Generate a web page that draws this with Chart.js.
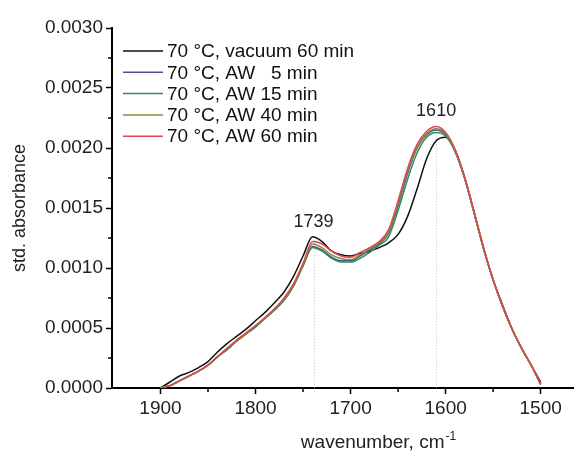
<!DOCTYPE html>
<html>
<head>
<meta charset="utf-8">
<script src="https://cdn.jsdelivr.net/npm/chart.js@4.4.0/dist/chart.umd.min.js"></script>
<style>
html, body { margin: 0; padding: 0; background: #fff; }
</style>
</head>
<body>
<canvas id="myChart" width="574" height="451"></canvas>
<script>
// wavenumber grid, cm-1
let wavenumbers = [1900, 1890, 1880, 1870, 1860, 1850, 1840, 1830, 1820, 1810,
                   1800, 1790, 1780, 1770, 1760, 1750, 1740, 1730, 1720, 1710,
                   1700, 1690, 1680, 1670, 1660, 1650, 1640, 1630, 1620, 1610,
                   1600, 1590, 1580, 1570, 1560, 1550, 1540, 1530, 1520, 1510, 1500];

let vacuum60 = [0.00000, 0.00005, 0.00010, 0.00013, 0.00017, 0.00022, 0.00030, 0.00037, 0.00043, 0.00049,
                0.00056, 0.00063, 0.00071, 0.00080, 0.00093, 0.00110, 0.00126, 0.00122, 0.00114, 0.00111,
                0.00110, 0.00112, 0.00114, 0.00117, 0.00121, 0.00128, 0.00143, 0.00166, 0.00191, 0.00206,
                0.00209, 0.00198, 0.00175, 0.00146, 0.00116, 0.00090, 0.00069, 0.00049, 0.00033, 0.00019, 0.00005];
let aw5 = [0.00000, 0.00002, 0.00006, 0.00010, 0.00014, 0.00019, 0.00026, 0.00032, 0.00039, 0.00045,
           0.00051, 0.00058, 0.00065, 0.00073, 0.00085, 0.00102, 0.00118, 0.00115, 0.00109, 0.00106,
           0.00106, 0.00110, 0.00115, 0.00120, 0.00129, 0.00152, 0.00179, 0.00200, 0.00211, 0.00215,
           0.00211, 0.00197, 0.00175, 0.00146, 0.00116, 0.00090, 0.00068, 0.00049, 0.00033, 0.00019, 0.00003];
let aw15 = [0.00000, 0.00002, 0.00006, 0.00010, 0.00014, 0.00019, 0.00026, 0.00032, 0.00039, 0.00045,
            0.00051, 0.00058, 0.00065, 0.00073, 0.00085, 0.00102, 0.00117, 0.00114, 0.00108, 0.00105,
            0.00105, 0.00108, 0.00113, 0.00119, 0.00126, 0.00148, 0.00174, 0.00196, 0.00209, 0.00213,
            0.00210, 0.00197, 0.00175, 0.00146, 0.00116, 0.00090, 0.00068, 0.00049, 0.00033, 0.00019, 0.00003];
let aw40 = [0.00000, 0.00002, 0.00006, 0.00010, 0.00014, 0.00019, 0.00026, 0.00033, 0.00039, 0.00045,
            0.00052, 0.00058, 0.00066, 0.00074, 0.00086, 0.00103, 0.00120, 0.00117, 0.00111, 0.00108,
            0.00107, 0.00111, 0.00116, 0.00121, 0.00130, 0.00154, 0.00181, 0.00201, 0.00212, 0.00216,
            0.00212, 0.00198, 0.00175, 0.00146, 0.00116, 0.00090, 0.00068, 0.00049, 0.00033, 0.00019, 0.00003];
let aw60 = [0.00000, 0.00002, 0.00006, 0.00010, 0.00014, 0.00019, 0.00026, 0.00033, 0.00040, 0.00046,
            0.00052, 0.00059, 0.00066, 0.00075, 0.00087, 0.00104, 0.00122, 0.00120, 0.00114, 0.00110,
            0.00109, 0.00113, 0.00117, 0.00122, 0.00132, 0.00156, 0.00183, 0.00203, 0.00214, 0.00218,
            0.00213, 0.00199, 0.00176, 0.00147, 0.00117, 0.00090, 0.00068, 0.00049, 0.00033, 0.00019, 0.00003];

let labels = ['70 °C, vacuum 60 min', '70 °C, AW   5 min', '70 °C, AW 15 min', '70 °C, AW 40 min', '70 °C, AW 60 min'];
let series = [vacuum60, aw5, aw15, aw40, aw60];
let colorHex = ['#111111', '#4d4f9a', '#2f8a5e', '#8a8c3c', '#e0474c'];

let xTicks = [1900, 1800, 1700, 1600, 1500];
let xMinor = [1850, 1750, 1650, 1550];
let yTicks = [0, 0.0005, 0.0010, 0.0015, 0.0020, 0.0025, 0.0030];
let yMinor = [0.00025, 0.00075, 0.00125, 0.00175, 0.00225, 0.00275];
let peaks = [1739, 1610];

const FONT = 'Arial, "Liberation Sans", sans-serif';

// extra drawing: peak markers, minor ticks, legend, x title
const extras = {
  id: 'extras',
  beforeDatasetsDraw(chart) {
    const ctx = chart.ctx, xs = chart.scales.x, ys = chart.scales.y;
    ctx.save();
    ctx.strokeStyle = '#c4c4c4';
    ctx.lineWidth = 1;
    ctx.setLineDash([1, 2]);
    peaks.forEach(p => {
      let top = peakValue(p);
      let px = Math.round(xs.getPixelForValue(p)) + 0.5;
      ctx.beginPath();
      ctx.moveTo(px, ys.getPixelForValue(top));
      ctx.lineTo(px, ys.getPixelForValue(0));
      ctx.stroke();
    });
    ctx.restore();
  },
  afterDraw(chart) {
    const ctx = chart.ctx, xs = chart.scales.x, ys = chart.scales.y;
    const area = chart.chartArea;
    ctx.save();
    // minor ticks
    ctx.strokeStyle = '#000';
    ctx.lineWidth = 1.5;
    xMinor.forEach(v => {
      let px = xs.getPixelForValue(v);
      ctx.beginPath();
      ctx.moveTo(px, area.bottom);
      ctx.lineTo(px, area.bottom + 4);
      ctx.stroke();
    });
    yMinor.forEach(v => {
      let py = ys.getPixelForValue(v);
      ctx.beginPath();
      ctx.moveTo(area.left, py);
      ctx.lineTo(area.left - 4, py);
      ctx.stroke();
    });
    // peak labels
    ctx.fillStyle = '#222';
    ctx.font = '18px ' + FONT;
    ctx.textAlign = 'center';
    ctx.textBaseline = 'middle';
    peaks.forEach(p => {
      ctx.fillText(String(p), xs.getPixelForValue(p), ys.getPixelForValue(peakValue(p)) - 15);
    });
    // legend
    ctx.font = '19px ' + FONT;
    ctx.textAlign = 'left';
    chart.data.datasets.forEach((ds, i) => {
      let y = 51 + i * 21.3;
      ctx.strokeStyle = ds.borderColor;
      ctx.lineWidth = 1.5;
      ctx.beginPath();
      ctx.moveTo(123, y);
      ctx.lineTo(163, y);
      ctx.stroke();
      ctx.fillStyle = '#111';
      ctx.fillText(ds.label, 167, y + 1);
    });
    // x axis title with superscript
    ctx.fillStyle = '#222';
    ctx.font = '19px ' + FONT;
    let main = 'wavenumber, cm';
    let w1 = ctx.measureText(main).width;
    ctx.font = '12px ' + FONT;
    let w2 = ctx.measureText('-1').width;
    let x0 = 378 - (w1 + w2) / 2;
    ctx.font = '19px ' + FONT;
    ctx.textBaseline = 'alphabetic';
    ctx.fillText(main, x0, 448);
    ctx.font = '12px ' + FONT;
    ctx.fillText('-1', x0 + w1 + 1, 440);
    ctx.restore();
  }
};

function peakValue(p) {
  let i = wavenumbers.indexOf(Math.round(p / 10) * 10);
  return Math.max(...series.map(s => s[i]));
}

let ctx = document.getElementById('myChart').getContext('2d');
let myChart = new Chart(ctx, {
  type: 'line',
  data: {
    datasets: series.map((s, i) => ({
      label: labels[i],
      data: wavenumbers.map((w, j) => ({ x: w, y: s[j] })),
      borderColor: colorHex[i],
      borderWidth: 1.5,
      pointRadius: 0,
      cubicInterpolationMode: 'monotone',
      order: i === 0 ? 5 : 4 - i
    }))
  },
  options: {
    responsive: false,
    animation: false,
    devicePixelRatio: 1,
    layout: { padding: { top: 28, right: 1, left: 0, bottom: 0 } },
    plugins: {
      legend: { display: false },
      tooltip: { enabled: false }
    },
    scales: {
      x: {
        type: 'linear',
        reverse: true,
        min: 1466,
        max: 1951,
        afterBuildTicks: scale => { scale.ticks = xTicks.map(v => ({ value: v })); },
        afterFit: scale => { scale.height = 63; },
        ticks: {
          color: '#222',
          font: { family: FONT, size: 19 },
          padding: 3,
          maxRotation: 0,
          callback: v => String(v)
        },
        grid: { drawOnChartArea: false, tickLength: 6, tickColor: '#000', tickWidth: 1.5 },
        border: { display: true, color: '#000', width: 2 },
        title: { display: false }
      },
      y: {
        min: 0,
        max: 0.003,
        afterBuildTicks: scale => { scale.ticks = yTicks.map(v => ({ value: v })); },
        afterFit: scale => { scale.width = 112; },
        ticks: {
          color: '#222',
          font: { family: FONT, size: 19 },
          padding: 3,
          callback: v => v.toFixed(4)
        },
        grid: { drawOnChartArea: false, tickLength: 6, tickColor: '#000', tickWidth: 1.5 },
        border: { display: true, color: '#000', width: 2 },
        title: {
          display: true,
          text: 'std. absorbance',
          color: '#222',
          font: { family: FONT, size: 18, lineHeight: 1.2 },
          padding: { top: 9, bottom: 0 }
        }
      }
    }
  },
  plugins: [extras]
});
</script>
</body>
</html>
